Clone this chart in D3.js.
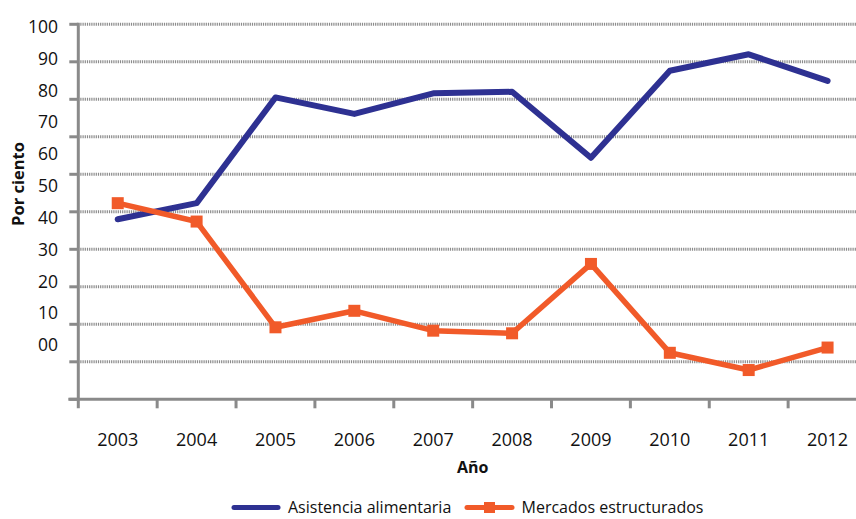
<!DOCTYPE html>
<html>
<head>
<meta charset="utf-8">
<script src="https://cdn.jsdelivr.net/npm/d3@7"></script>
<style>
  html, body { margin: 0; padding: 0; background: #fff; }
  svg { display: block; }
  text { font-family: "Open Sans", "Noto Sans", sans-serif; fill: #111; }
</style>
</head>
<body>
<svg id="chart" width="856" height="519"></svg>
<script>
// Años y series (porcentaje)
const years = ["2003", "2004", "2005", "2006", "2007", "2008", "2009", "2010", "2011", "2012"];
const asistencia = [48.0, 52.3, 80.5, 76.1, 81.6, 82.0, 64.4, 87.6, 92.0, 84.9];
const mercados = [52.3, 47.4, 19.2, 23.6, 18.3, 17.6, 36.1, 12.4, 7.8, 13.8];
const yTicks = [0, 10, 20, 30, 40, 50, 60, 70, 80, 90, 100];
const yLabels = ["100", "90", "80", "70", "60", "50", "40", "30", "20", "10", "00"];
const seriesNames = ["Asistencia alimentaria", "Mercados estructurados"];

const BLUE = "#2e3192";
const ORANGE = "#f15a29";
const GREY = "#8a8a8a";

const svg = d3.select("#chart");

const plot = { left: 78.3, right: 867, top: 24.3, bottom: 399.3 };

const x = d3.scaleBand().domain(years).range([plot.left, plot.right]);
const y = d3.scaleLinear().domain([0, 100]).range([plot.bottom, plot.top]);
// Posición de las etiquetas del eje vertical
const yLab = d3.scalePoint().domain(yLabels).range([26.7, 345]);

// Líneas de cuadrícula punteadas
svg.append("g")
  .selectAll("line")
  .data(yTicks.filter(d => d > 0))
  .join("line")
  .attr("x1", plot.left + 2)
  .attr("x2", 856)
  .attr("y1", d => y(d))
  .attr("y2", d => y(d))
  .attr("stroke", GREY)
  .attr("stroke-width", 3)
  .attr("stroke-dasharray", "1.2,1");

// Eje Y: línea y marcas
const yAxis = svg.append("g");
yAxis.append("line")
  .attr("x1", plot.left).attr("x2", plot.left)
  .attr("y1", plot.top - 1.5).attr("y2", plot.bottom + 9)
  .attr("stroke", GREY).attr("stroke-width", 3);
yAxis.selectAll("line.tick")
  .data(yTicks)
  .join("line")
  .attr("class", "tick")
  .attr("x1", plot.left - 9).attr("x2", plot.left)
  .attr("y1", d => y(d)).attr("y2", d => y(d))
  .attr("stroke", GREY).attr("stroke-width", 3);
yAxis.selectAll("text")
  .data(yLabels)
  .join("text")
  .attr("x", 58)
  .attr("y", d => yLab(d))
  .attr("dy", "0.36em")
  .attr("text-anchor", "end")
  .style("font-size", "17.5px")
  .text(d => d);

// Eje X: línea, marcas entre categorías y etiquetas
const xAxis = svg.append("g");
xAxis.append("line")
  .attr("x1", plot.left - 10).attr("x2", 856)
  .attr("y1", plot.bottom).attr("y2", plot.bottom)
  .attr("stroke", GREY).attr("stroke-width", 3);
xAxis.selectAll("line.tick")
  .data(years.slice(1))
  .join("line")
  .attr("class", "tick")
  .attr("x1", d => x(d)).attr("x2", d => x(d))
  .attr("y1", plot.bottom).attr("y2", plot.bottom + 9)
  .attr("stroke", GREY).attr("stroke-width", 3);
xAxis.selectAll("text")
  .data(years)
  .join("text")
  .attr("x", d => x(d) + x.bandwidth() / 2)
  .attr("y", 440)
  .attr("dy", "0.36em")
  .attr("text-anchor", "middle")
  .style("font-size", "18px")
  .text(d => d);

// Títulos de ejes
svg.append("text")
  .attr("x", (plot.left + plot.right) / 2)
  .attr("y", 467)
  .attr("dy", "0.36em")
  .attr("text-anchor", "middle")
  .style("font-size", "16px")
  .style("font-weight", "bold")
  .text("Año");

svg.append("text")
  .attr("transform", "translate(18,184) rotate(-90)")
  .attr("dy", "0.36em")
  .attr("text-anchor", "middle")
  .style("font-size", "16.5px")
  .style("font-weight", "bold")
  .text("Por ciento");

// Series
const cx = (d, i) => x(years[i]) + x.bandwidth() / 2;
const line = d3.line().x(cx).y(d => y(d));

svg.append("path")
  .datum(asistencia)
  .attr("d", line)
  .attr("fill", "none")
  .attr("stroke", BLUE)
  .attr("stroke-width", 6)
  .attr("stroke-linejoin", "round")
  .attr("stroke-linecap", "round");

svg.append("path")
  .datum(mercados)
  .attr("d", line)
  .attr("fill", "none")
  .attr("stroke", ORANGE)
  .attr("stroke-width", 5.5)
  .attr("stroke-linejoin", "round");

const M = 12;
svg.append("g")
  .selectAll("rect")
  .data(mercados)
  .join("rect")
  .attr("x", (d, i) => cx(d, i) - M / 2)
  .attr("y", d => y(d) - M / 2)
  .attr("width", M)
  .attr("height", M)
  .attr("fill", ORANGE);

// Leyenda
const legend = svg.append("g").attr("transform", "translate(0,507.5)");
legend.append("line")
  .attr("x1", 234).attr("x2", 278).attr("y1", 0).attr("y2", 0)
  .attr("stroke", BLUE).attr("stroke-width", 5).attr("stroke-linecap", "round");
legend.append("text")
  .attr("x", 288).attr("dy", "0.36em")
  .style("font-size", "16px")
  .text(seriesNames[0]);
legend.append("line")
  .attr("x1", 467).attr("x2", 512).attr("y1", 0).attr("y2", 0)
  .attr("stroke", ORANGE).attr("stroke-width", 5).attr("stroke-linecap", "round");
legend.append("rect")
  .attr("x", 489.5 - 5.5).attr("y", -5.5).attr("width", 11).attr("height", 11)
  .attr("fill", ORANGE);
legend.append("text")
  .attr("x", 521.5).attr("dy", "0.36em")
  .style("font-size", "16px")
  .text(seriesNames[1]);
</script>
</body>
</html>
